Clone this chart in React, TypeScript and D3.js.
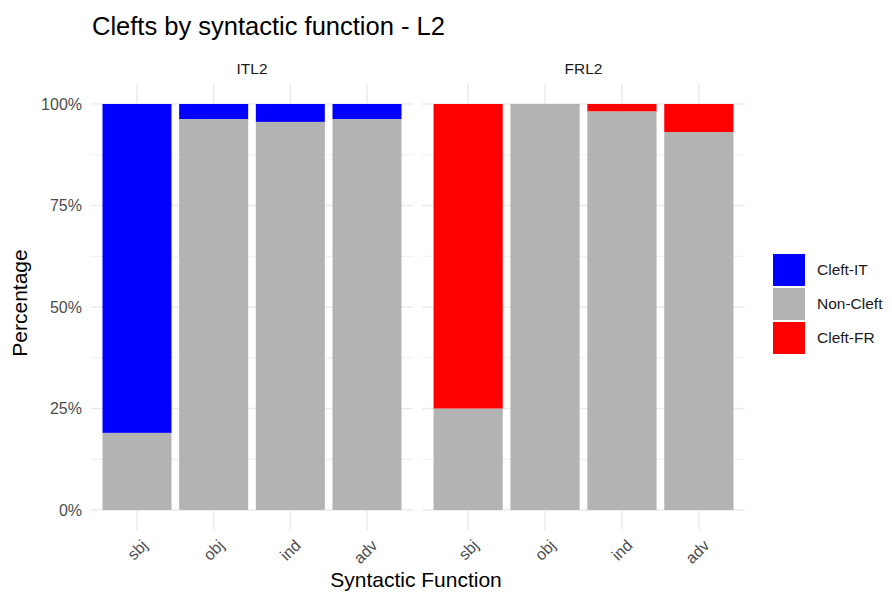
import * as d3 from 'd3'
import React from 'react'

// categories and panels
const functions = ['sbj', 'obj', 'ind', 'adv']
const legendKeys = ['Cleft-IT', 'Non-Cleft', 'Cleft-FR']
const yTicks = [0, 0.25, 0.5, 0.75, 1]
const yMinor = [0.125, 0.375, 0.625, 0.875]

// share of Non-Cleft per function (bottom of stack), the rest is the cleft type
const itl2NonCleft = [0.19, 0.963, 0.956, 0.963]
const frl2NonCleft = [0.25, 1.0, 0.982, 0.931]

const colors: Record<string, string> = {
  'Cleft-IT': '#0000FF',
  'Non-Cleft': '#B3B3B3',
  'Cleft-FR': '#FF0000',
}

const W = 892
const H = 595
const panelX = [
  [91, 413],
  [422, 745],
]
const panelTop = 84
const panelBottom = 530

export default function App() {
  const y = d3.scaleLinear().domain([0, 1]).range([510, 104])
  const fmt = d3.format('.0%')
  const font = '"Liberation Sans", Arial, Helvetica, sans-serif'

  const series = [
    { name: 'ITL2', cleft: 'Cleft-IT', nonCleft: itl2NonCleft },
    { name: 'FRL2', cleft: 'Cleft-FR', nonCleft: frl2NonCleft },
  ]

  return (
    <svg
      width={W}
      height={H}
      style={{ position: 'absolute', left: 0, top: 0, fontFamily: font }}
    >
      <rect width={W} height={H} fill="#fff" />
      <text x={92} y={35} fontSize={25.5} fill="#000">
        Clefts by syntactic function - L2
      </text>

      {series.map((s, pi) => {
        const x = d3
          .scaleBand()
          .domain(functions)
          .range(panelX[pi] as [number, number])
          .paddingInner(0.1)
          .paddingOuter(0.15)
        const [x0, x1] = panelX[pi]
        return (
          <g key={s.name}>
            {/* grid */}
            {yMinor.map(t => (
              <line key={'m' + t} x1={x0} x2={x1} y1={y(t)} y2={y(t)} stroke="#EBEBEB" strokeWidth={0.8} />
            ))}
            {yTicks.map(t => (
              <line key={'M' + t} x1={x0} x2={x1} y1={y(t)} y2={y(t)} stroke="#EBEBEB" strokeWidth={1.6} />
            ))}
            {functions.map(f => {
              const cx = (x(f) ?? 0) + x.bandwidth() / 2
              return (
                <line key={'v' + f} x1={cx} x2={cx} y1={panelTop} y2={panelBottom} stroke="#EBEBEB" strokeWidth={1.6} />
              )
            })}
            {/* bars */}
            {functions.map((f, i) => {
              const bx = x(f) ?? 0
              const nc = s.nonCleft[i]
              return (
                <g key={'b' + f}>
                  <rect x={bx} width={x.bandwidth()} y={y(nc)} height={y(0) - y(nc)} fill={colors['Non-Cleft']} />
                  {nc < 1 && (
                    <rect x={bx} width={x.bandwidth()} y={y(1)} height={y(nc) - y(1)} fill={colors[s.cleft]} />
                  )}
                </g>
              )
            })}
            {/* strip label */}
            <text x={(x0 + x1) / 2} y={74} textAnchor="middle" fontSize={15.5} fill="#1A1A1A">
              {s.name}
            </text>
            {/* x tick labels */}
            {functions.map(f => {
              const cx = (x(f) ?? 0) + x.bandwidth() / 2
              return (
                <text
                  key={'t' + f}
                  transform={`translate(${cx + 3},${538}) rotate(-45)`}
                  textAnchor="end"
                  dy="0.75em"
                  fontSize={16}
                  fill="#4D4D4D"
                >
                  {f}
                </text>
              )
            })}
          </g>
        )
      })}

      {/* y tick labels */}
      {yTicks.map(t => (
        <text key={t} x={82} y={y(t)} dy="0.35em" textAnchor="end" fontSize={16} fill="#4D4D4D">
          {fmt(t)}
        </text>
      ))}

      {/* axis titles */}
      <text x={416} y={587} textAnchor="middle" fontSize={21} fill="#000">
        Syntactic Function
      </text>
      <text transform="translate(27,303) rotate(-90)" textAnchor="middle" fontSize={21} fill="#000">
        Percentage
      </text>

      {/* legend */}
      {legendKeys.map((k, i) => (
        <g key={k} transform={`translate(773,${254 + i * 34})`}>
          <rect width={32} height={32} fill={colors[k]} />
          <text x={44} y={16} dy="0.35em" fontSize={15.5} fill="#1A1A1A">
            {k}
          </text>
        </g>
      ))}
    </svg>
  )
}
